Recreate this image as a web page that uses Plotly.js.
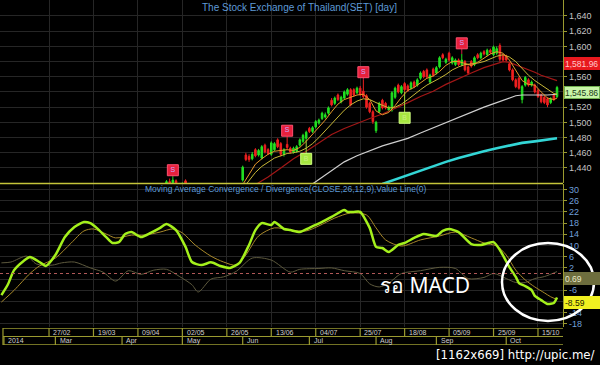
<!DOCTYPE html>
<html>
<head>
<meta charset="utf-8">
<script src="https://cdn.plot.ly/plotly-3.0.1.min.js"></script>
<style>
  html, body { margin: 0; padding: 0; background: #000; }
  #chart { width: 600px; height: 365px; }
</style>
</head>
<body>
<div id="chart"></div>
<script>
// ---------- Axis labels ----------
const tickIdx = [15, 29, 43, 57, 71, 85, 99, 113, 127, 141, 155, 169];
const tickLabels = ['27/02','19/03','09/04','02/05','26/05','13/06','04/07','25/07','18/08','05/09','25/09','15/10'];
const monthIdx = [0.8, 17, 38, 57, 76, 97, 118, 137, 159];
const monthLabels = ['2014','Mar','Apr','May','Jun','Jul','Aug','Sep','Oct'];
const priceTicks = [1440, 1460, 1480, 1500, 1520, 1540, 1560, 1580, 1600, 1620, 1640];
const priceTickText = ['1,440','1,460','1,480','1,500','1,520','','1,560','','1,600','1,620','1,640'];
const macdTicks = [-18, -14, -10, -6, -2, 2, 6, 10, 14, 18, 22, 26, 30];
const macdTickText = ['-18','-14','','-6','','2','6','10','14','18','22','26','30'];

// ---------- Daily candles (trading-day index) ----------
const candleIdx = [52,53,54,55,56,57,58,
  76,77,78,79,80,81,82,83,84,85,86,87,88,89,90,91,92,93,94,95,96,97,98,99,
  100,101,102,103,104,105,106,107,108,109,110,111,112,113,114,115,116,117,118,119,
  120,121,122,123,124,125,126,127,128,129,130,131,132,133,134,135,136,137,138,139,
  140,141,142,143,144,145,146,147,148,149,150,151,152,153,154,155,156,157,158,159,
  160,161,162,163,164,165,166,167,168,169,170,171,172,173,174,175];
const openP = [1416,1422,1420,1423,1416,1412,1423,
  1424,1457,1455,1452,1464,1457,1453,1470,1464,1458,1464,1477,1472,1458,1471,1466,1461,1462,1470,1475,1479,1492,1488,1494,
  1499,1505,1507,1512,1529,1525,1536,1527,1532,1537,1543,1543,1539,1545,1541,1535,1525,1514,1489,1514,
  1529,1525,1516,1516,1533,1549,1539,1551,1548,1545,1553,1549,1558,1567,1569,1553,1570,1565,1573,1589,
  1579,1591,1578,1576,1582,1576,1580,1573,1580,1576,1589,1585,1593,1589,1595,1589,1591,1601,1588,1587,
  1577,1569,1556,1558,1530,1549,1556,1549,1549,1542,1536,1533,1531,1526,1536,1534];
const highP = [1424,1426,1429,1425,1419,1421,1425,
  1443,1460,1458,1461,1466,1465,1470,1472,1466,1475,1474,1479,1474,1466,1481,1468,1468,1470,1479,1485,1489,1494,1495,1503,
  1505,1514,1513,1521,1532,1534,1538,1535,1542,1545,1545,1545,1547,1548,1556,1537,1527,1516,1502,1527,
  1531,1527,1522,1541,1547,1551,1549,1553,1550,1554,1555,1558,1567,1569,1571,1564,1572,1574,1587,1591,
  1585,1593,1587,1584,1584,1590,1582,1575,1582,1587,1591,1593,1595,1597,1597,1601,1600,1604,1590,1589,
  1579,1571,1558,1560,1549,1561,1558,1555,1551,1544,1538,1535,1533,1533,1538,1548];
const lowP = [1413,1418,1417,1414,1410,1410,1417,
  1422,1449,1448,1450,1454,1455,1451,1459,1457,1456,1462,1466,1455,1455,1464,1459,1459,1460,1468,1473,1477,1486,1486,1492,
  1497,1503,1505,1510,1521,1523,1528,1525,1530,1535,1521,1534,1537,1535,1532,1518,1512,1498,1486,1512,
  1517,1517,1514,1514,1531,1538,1537,1540,1540,1543,1545,1547,1556,1558,1558,1551,1560,1563,1571,1583,
  1577,1580,1576,1574,1574,1574,1567,1563,1572,1574,1583,1583,1588,1587,1590,1587,1589,1580,1580,1580,
  1567,1554,1545,1543,1525,1547,1547,1547,1538,1532,1525,1524,1520,1524,1528,1532];
const closeP = [1422,1420,1424,1416,1412,1419,1420,
  1441,1451,1451,1458,1456,1463,1468,1461,1459,1473,1472,1468,1458,1464,1467,1461,1466,1468,1477,1483,1487,1488,1493,1501,
  1503,1512,1510,1519,1523,1532,1530,1533,1540,1543,1523,1536,1545,1537,1534,1520,1514,1501,1500,1525,
  1519,1519,1520,1539,1545,1540,1547,1543,1542,1552,1547,1556,1565,1560,1560,1562,1562,1572,1585,1585,
  1583,1582,1585,1582,1576,1582,1569,1565,1574,1585,1585,1591,1590,1595,1592,1599,1597,1583,1582,1582,
  1569,1556,1547,1545,1547,1559,1549,1553,1540,1534,1527,1526,1523,1531,1530,1545.86];

// ---------- Moving averages ----------
const maFastIdx = [76,78,80,82,84,86,88,90,92,94,96,98,100,102,104,106,108,110,112,114,116,118,120,122,124,126,128,130,132,134,136,138,140,142,144,146,148,150,152,154,156,158,160,162,164,166,168,170,172,174,175];
const maFast = [1418,1432,1445,1452,1458,1462,1463,1464,1463,1467,1475,1484,1494,1503,1514,1524,1530,1533,1536,1537,1530,1515,1510,1513,1522,1533,1542,1546,1552,1558,1561,1567,1575,1580,1580,1578,1575,1579,1585,1590,1593,1591,1582,1568,1555,1550,1549,1540,1532,1530,1532];
const maSlowIdx = [77,80,82,84,86,88,90,92,94,96,98,100,102,104,106,108,110,112,114,116,118,120,122,124,126,128,130,132,134,136,138,140,142,144,146,148,150,152,154,156,158,160,162,164,166,168,170,172,174,175];
const maSlow = [1418,1434,1442,1448,1453,1456,1459,1460,1462,1466,1472,1480,1489,1498,1508,1516,1523,1528,1531,1530,1526,1522,1519,1520,1524,1530,1537,1543,1549,1553,1558,1563,1569,1573,1576,1577,1578,1580,1584,1587,1589,1586,1580,1571,1562,1555,1549,1543,1538,1537];
const maRedIdx = [80,84,88,92,96,100,104,108,112,116,120,124,128,132,136,140,144,148,152,156,158,160,162,164,166,168,170,172,175];
const maRed = [1418,1428,1440,1452,1462,1473,1484,1492,1499,1505,1511,1518,1526,1534,1541,1550,1558,1565,1572,1578,1580,1579,1576,1572,1569,1566,1562,1559,1555];
const maWhiteIdx = [98,100,104,108,112,116,120,124,128,132,136,140,144,148,152,156,160,162,164,168,172,175];
const maWhite = [1419,1425,1437,1448,1456,1463,1469,1474,1479,1486,1493,1500,1507,1514,1520,1526,1532,1535,1536,1536,1536,1537];
const maCyanIdx = [120,124,128,132,136,140,144,148,152,156,160,164,168,172,175];
const maCyan = [1419,1425,1431,1437,1443,1448,1453,1458,1462,1466,1470,1473,1475,1477,1479];

// ---------- Signals ----------
const sellIdx = [54, 90, 114, 145];
const sellPrice = [1437, 1489, 1566, 1604];
const buyIdx = [96, 127];
const buyPrice = [1452, 1506];

// ---------- MACD panel ----------
const macdIdx = [0,2,4,7,9,12,14,17,20,23,26,28,30,33,35,37,39,41,44,47,50,52,55,58,60,63,66,69,72,75,78,80,82,85,86,89,91,94,97,101,104,108,109,111,113,116,118,120,122,125,127,130,133,137,139,141,144,148,151,155,157,160,162,163,165,167,168,170,172,174,175];
const macdVal = [-7.7,-4.0,1.2,4.5,5.9,4.1,2.7,6.6,13.0,16.6,18.4,18.0,16.3,13.0,10.9,11.2,14.1,14.8,13.0,14.5,16.3,17.7,15.5,9.5,4.1,3.0,4.0,2.7,2.0,3.8,10.2,15.5,18.0,17.3,18.4,15.9,15.5,14.8,16.3,18.4,20.2,22.7,22.0,22.0,22.0,16.3,9.5,9.1,7.7,10.2,10.9,12.7,14.1,13.4,15.2,15.9,14.8,10.5,10.2,11.2,8.4,2.3,-1.2,-3.4,-4.5,-5.9,-8.0,-9.5,-10.9,-10.5,-8.59];
const signalIdx = [0,4,9,12,17,22,26,29,33,36,41,45,50,54,57,61,66,70,74,77,81,86,91,96,100,105,110,115,118,121,126,132,138,143,148,152,156,159,162,165,168,171,173,175];
const signalVal = [-10.2,-6.0,0.0,2.7,5.5,10.9,15.2,15.9,14.1,12.7,13.7,13.7,14.8,15.9,14.5,10.2,6.2,4.1,3.0,6.6,13.4,16.3,15.5,15.2,17.0,19.8,21.6,20.9,16.3,12.0,9.8,12.0,13.4,14.8,12.7,10.9,9.8,6.6,1.2,-2.3,-4.8,-6.9,-8.3,-9.28];
const histIdx = [0,3,8,11,16,19,23,28,32,36,40,44,48,52,56,60,62,66,70,74,79,85,91,94,100,104,108,113,116,119,122,126,132,138,143,147,152,155,159,162,165,168,171,175];
const histVal = [3.8,4.1,6.2,3.4,3.0,3.8,4.1,2.0,0.5,-2.7,1.0,-0.3,1.2,1.5,-1.0,-4.0,-6.6,-2.0,-1.2,0.8,5.5,4.8,0.5,1.5,1.8,2.0,1.0,0.0,-3.7,-4.8,-3.4,0.0,1.0,2.2,1.8,-1.8,-1.4,0.0,-1.8,-3.2,-3.2,-1.8,-1.1,0.69];

// ---------- Build stems from signal markers to candles ----------
function candleAt(i) { return candleIdx.indexOf(i); }
const sellStemX = [], sellStemY = [];
sellIdx.forEach((ix, k) => { const c = candleAt(ix); sellStemX.push(ix, ix, null); sellStemY.push(sellPrice[k], highP[c], null); });
const buyStemX = [], buyStemY = [];
buyIdx.forEach((ix, k) => { const c = candleAt(ix); buyStemX.push(ix, ix, null); buyStemY.push(buyPrice[k], lowP[c], null); });

const fontMain = 'Liberation Sans, Arial, sans-serif';

const traces = [
  { type: 'scatter', mode: 'lines', x: maCyanIdx, y: maCyan, xaxis: 'x', yaxis: 'y', line: { color: '#33d6d6', width: 2.6 }, hoverinfo: 'skip' },
  { type: 'scatter', mode: 'lines', x: maWhiteIdx, y: maWhite, xaxis: 'x', yaxis: 'y', line: { color: '#cfcfcf', width: 1.2 }, hoverinfo: 'skip' },
  { type: 'scatter', mode: 'lines', x: maRedIdx, y: maRed, xaxis: 'x', yaxis: 'y', line: { color: '#a31717', width: 1.2 }, hoverinfo: 'skip' },
  { type: 'scatter', mode: 'lines', x: sellStemX, y: sellStemY, xaxis: 'x', yaxis: 'y', line: { color: '#d02040', width: 1 }, hoverinfo: 'skip' },
  { type: 'scatter', mode: 'lines', x: buyStemX, y: buyStemY, xaxis: 'x', yaxis: 'y', line: { color: '#9ad83a', width: 1 }, hoverinfo: 'skip' },
  { type: 'candlestick', x: candleIdx, open: openP, high: highP, low: lowP, close: closeP, xaxis: 'x', yaxis: 'y',
    increasing: { line: { color: '#22e022', width: 1 }, fillcolor: '#22e022' },
    decreasing: { line: { color: '#f02020', width: 1 }, fillcolor: '#f02020' },
    whiskerwidth: 0, hoverinfo: 'skip' },
  { type: 'scatter', mode: 'lines', x: maSlowIdx, y: maSlow, xaxis: 'x', yaxis: 'y', line: { color: '#c8b838', width: 1 }, hoverinfo: 'skip' },
  { type: 'scatter', mode: 'lines', x: maFastIdx, y: maFast, xaxis: 'x', yaxis: 'y', line: { color: '#e89a2c', width: 1 }, hoverinfo: 'skip' },
  { type: 'scatter', mode: 'markers+text', x: sellIdx, y: sellPrice, xaxis: 'x', yaxis: 'y', text: sellIdx.map(() => 'S'),
    textposition: 'middle center', textfont: { size: 7, color: '#c8a8ff', family: fontMain },
    marker: { symbol: 'square', size: 11, color: '#e8203c', line: { color: '#ff5070', width: 1 } }, hoverinfo: 'skip' },
  { type: 'scatter', mode: 'markers+text', x: buyIdx, y: buyPrice, xaxis: 'x', yaxis: 'y', text: buyIdx.map(() => 'B'),
    textposition: 'middle center', textfont: { size: 7, color: '#c8f080', family: fontMain },
    marker: { symbol: 'square', size: 11, color: '#a6e640', line: { color: '#d0ff80', width: 1 } }, hoverinfo: 'skip' },
  // MACD panel
  { type: 'scatter', mode: 'lines', x: histIdx, y: histVal, xaxis: 'x2', yaxis: 'y2', line: { color: '#5e5a3e', width: 1, shape: 'spline', smoothing: 0.8 }, hoverinfo: 'skip' },
  { type: 'scatter', mode: 'lines', x: signalIdx, y: signalVal, xaxis: 'x2', yaxis: 'y2', line: { color: '#a8882a', width: 1, shape: 'spline', smoothing: 0.8 }, hoverinfo: 'skip' },
  { type: 'scatter', mode: 'lines', x: macdIdx, y: macdVal, xaxis: 'x2', yaxis: 'y2', line: { color: '#a4f01c', width: 2.5, shape: 'spline', smoothing: 0.6 }, hoverinfo: 'skip' },
  // dummy for date band axes
  { type: 'scatter', mode: 'lines', x: [0], y: [0], xaxis: 'x3', yaxis: 'y3', line: { color: 'rgba(0,0,0,0)' }, hoverinfo: 'skip' }
];

const xRange = [-0.44, 176.88];
const xDom = [0, 563 / 600];
const gridC = '#262626';
const axisC = '#9a9a30';

const shapes = [];
shapes.push({ type: 'line', xref: 'x2', yref: 'y2', x0: xRange[0], x1: xRange[1], y0: 0, y1: 0, line: { color: '#b05858', width: 1, dash: 'dot' } });
shapes.push({ type: 'line', xref: 'paper', yref: 'paper', x0: 0, x1: 563 / 600, y0: 1 - 183.5 / 365, y1: 1 - 183.5 / 365, line: { color: '#c4c43a', width: 1.5 } });
[0.02, 1, 1.98].forEach(v => shapes.push({ type: 'line', xref: 'x3', yref: 'y3', x0: 0.5, x1: xRange[1], y0: v, y1: v, line: { color: axisC, width: 1.2 } }));
shapes.push({ type: 'line', xref: 'x3', yref: 'y3', x0: 0.5, x1: 0.5, y0: 0, y1: 2, line: { color: axisC, width: 1.2 } });
tickIdx.forEach(t => shapes.push({ type: 'line', xref: 'x3', yref: 'y3', x0: t, x1: t, y0: 1, y1: 2, line: { color: axisC, width: 1.2 } }));
monthIdx.forEach(t => shapes.push({ type: 'line', xref: 'x3', yref: 'y3', x0: t, x1: t, y0: 0, y1: 1, line: { color: axisC, width: 1.2 } }));
shapes.push({ type: 'circle', xref: 'paper', yref: 'paper', x0: 502 / 600, x1: 594 / 600, y0: 1 - 321 / 365, y1: 1 - 243 / 365, line: { color: '#ffffff', width: 2.5 } });

const annotations = [];
tickLabels.forEach((lab, k) => annotations.push({ xref: 'x3', yref: 'y3', x: tickIdx[k] + 0.7, y: 1.5, text: lab, showarrow: false, xanchor: 'left', yanchor: 'middle', font: { size: 7, color: '#cfcfcf', family: fontMain } }));
monthLabels.forEach((lab, k) => annotations.push({ xref: 'x3', yref: 'y3', x: monthIdx[k] + 0.7, y: 0.5, text: lab, showarrow: false, xanchor: 'left', yanchor: 'middle', font: { size: 7, color: '#cfcfcf', family: fontMain } }));
annotations.push({ xref: 'paper', yref: 'paper', x: 299 / 600, y: 1 - 7 / 365, text: 'The Stock Exchange of Thailand(SET) [day]', showarrow: false, xanchor: 'center', yanchor: 'middle', font: { size: 10, color: '#5e9ad6', family: fontMain } });
annotations.push({ xref: 'paper', yref: 'paper', x: 143 / 600, y: 1 - 188.5 / 365, text: 'Moving Average Convergence / Divergence(CLOSE,26,12,9),Value Line(0)', showarrow: false, xanchor: 'left', yanchor: 'middle', font: { size: 8.5, color: '#5e9ad6', family: fontMain } });
function box(text, yPx, bg, fg, border) {
  annotations.push({ xref: 'paper', yref: 'paper', x: 564 / 600, y: 1 - yPx / 365, text: text, showarrow: false, xanchor: 'left', yanchor: 'middle',
    width: 34, height: 11, align: 'left', bgcolor: bg, bordercolor: border, borderwidth: 1, borderpad: 0,
    font: { size: 8.5, color: fg, family: fontMain } });
}
box('1,581.96', 63.5, '#e8191e', '#ffc8c8', '#e8191e');
box('1,545.86', 93, '#c8f5a8', '#1a3a1a', '#70b050');
box('0.69', 278, '#6e6e3e', '#e8e8c8', '#6e6e3e');
box('-8.59', 302, '#f0f020', '#202000', '#f0f020');
annotations.push({ xref: 'paper', yref: 'paper', x: 425 / 600, y: 1 - 285 / 365, text: 'รอ MACD', showarrow: false, xanchor: 'center', yanchor: 'middle', font: { size: 21, color: '#ffffff', family: 'Noto Sans, DejaVu Sans, sans-serif' } });
annotations.push({ xref: 'paper', yref: 'paper', x: 596 / 600, y: 1 - 354 / 365, text: '[1162x669] http://upic.me/', showarrow: false, xanchor: 'right', yanchor: 'middle', font: { size: 13, color: '#ffffff', family: 'Liberation Sans Narrow, DejaVu Sans Condensed, sans-serif' } });

const layout = {
  width: 600, height: 365,
  margin: { l: 0, r: 0, t: 0, b: 0 },
  paper_bgcolor: '#000000', plot_bgcolor: '#000000',
  showlegend: false,
  xaxis: { domain: xDom, range: xRange, anchor: 'y', tickvals: tickIdx, showticklabels: false, ticks: '', showgrid: true, gridcolor: gridC, gridwidth: 1, zeroline: false, showline: false, rangeslider: { visible: false }, fixedrange: true },
  xaxis2: { domain: xDom, range: xRange, anchor: 'y2', tickvals: tickIdx, showticklabels: false, ticks: '', showgrid: true, gridcolor: gridC, gridwidth: 1, zeroline: false, showline: false, fixedrange: true },
  xaxis3: { domain: xDom, range: xRange, anchor: 'y3', showticklabels: false, ticks: '', showgrid: false, zeroline: false, showline: false, fixedrange: true },
  yaxis: { domain: [1 - 183 / 365, 1], range: [1420.2, 1661], anchor: 'x', side: 'right', tickvals: priceTicks, ticktext: priceTickText,
    tickfont: { size: 9, color: '#c4c4c4', family: fontMain }, ticks: 'outside', ticklen: 3, tickcolor: axisC,
    showline: true, linecolor: axisC, linewidth: 1.2, showgrid: true, gridcolor: gridC, zeroline: false, fixedrange: true },
  yaxis2: { domain: [1 - 327 / 365, 1 - 184 / 365], range: [-19.1, 31.96], anchor: 'x2', side: 'right', tickvals: macdTicks, ticktext: macdTickText,
    tickfont: { size: 9, color: '#6f9fd8', family: fontMain }, ticks: 'outside', ticklen: 3, tickcolor: axisC,
    showline: true, linecolor: axisC, linewidth: 1.2, showgrid: true, gridcolor: gridC, zeroline: false, fixedrange: true },
  yaxis3: { domain: [1 - 345 / 365, 1 - 328 / 365], range: [0, 2], anchor: 'x3', visible: false, fixedrange: true },
  shapes: shapes,
  annotations: annotations
};

Plotly.newPlot('chart', traces, layout, { displayModeBar: false, staticPlot: true });
</script>
</body>
</html>
